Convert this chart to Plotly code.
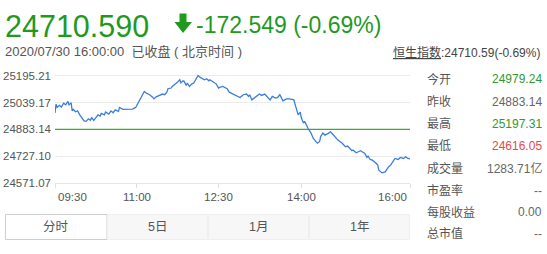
import plotly.graph_objects as go

# ---------------- data ----------------
minutes = [0, 1, 2, 4, 6, 8, 10, 12, 13, 15, 16, 17, 19, 21, 23, 25, 27, 29, 31, 33,
           34, 36, 38, 40, 42, 43, 46, 47, 50, 52, 54, 56, 59, 60, 63, 66, 69, 72, 75, 77,
           80, 82, 83, 85, 88, 91, 92, 94, 96, 98, 100, 102, 104, 105, 108, 109, 112, 114, 116, 117,
           119, 120, 122, 123, 125, 127, 129, 130, 132, 133, 135, 137, 139, 141, 143, 144, 146, 148, 150, 152,
           153, 156, 158, 160, 162, 164, 166, 169, 172, 175, 178, 180, 181, 183, 185, 188, 190, 192, 195, 197,
           200, 202, 205, 207, 209, 211, 212, 215, 218, 222, 223, 225, 226, 228, 229, 231, 232, 234, 235, 238,
           240, 243, 244, 246, 247, 249, 251, 254, 256, 258, 260, 263, 267, 270, 272, 274, 276, 277, 280, 282,
           284, 287, 288, 290, 291, 293, 295, 298, 300, 301, 304, 307, 310, 312, 314, 316, 319, 321, 324, 326,
           328, 330]
prices = [24979, 25030, 25011, 25023, 25013, 25036, 25026, 25046, 25026, 25038, 24991, 25000, 24986, 24991, 24968, 24949, 24933, 24930, 24945, 24936,
          24953, 24936, 24953, 24968, 24961, 24976, 24968, 24984, 24972, 24991, 24980, 24997, 24988, 25011, 25000, 25001, 25001, 25001, 25011, 25036,
          25065, 25089, 25104, 25094, 25085, 25069, 25061, 25073, 25077, 25081, 25089, 25085, 25100, 25120, 25124, 25133, 25147, 25159, 25172, 25154,
          25166, 25163, 25139, 25153, 25133, 25147, 25153, 25163, 25182, 25197, 25186, 25178, 25172, 25178, 25166, 25172, 25163, 25153, 25147, 25124,
          25128, 25133, 25128, 25120, 25100, 25094, 25085, 25075, 25069, 25085, 25089, 25075, 25085, 25055, 25065, 25075, 25089, 25081, 25089, 25075,
          25055, 25075, 25065, 25069, 25085, 25061, 25050, 25061, 25061, 25055, 25036, 24997, 24968, 24984, 24949, 24920, 24930, 24906, 24891, 24862,
          24832, 24809, 24803, 24813, 24842, 24862, 24850, 24860, 24869, 24856, 24840, 24821, 24802, 24782, 24786, 24773, 24759, 24763, 24747, 24753,
          24759, 24747, 24743, 24720, 24728, 24708, 24704, 24689, 24675, 24646, 24630, 24636, 24665, 24675, 24695, 24714, 24708, 24720, 24714, 24724,
          24714, 24711]
prev_close = 24883.14
y_ticks = [24571.07, 24727.10, 24883.14, 25039.17, 25195.21]
x_tick_pos = [0, 76, 152, 229, 330]
x_tick_labels = ["09:30", "11:00", "12:30", "14:00", "16:00"]

last_price = "24710.590"
change_text = "-172.549 (-0.69%)"
time_text = "2020/07/30 16:00:00  已收盘 ( 北京时间 )"
index_text = "<u>恒生指数</u>:24710.59(-0.69%)"

stat_labels = ["今开", "昨收", "最高", "最低", "成交量", "市盈率", "每股收益", "总市值"]
stat_values = ["24979.24", "24883.14", "25197.31", "24616.05", "1283.71亿", "--", "0.00", "--"]
stat_colors = ["#2f9a2f", "#666666", "#2f9a2f", "#e8474b", "#666666", "#666666", "#666666", "#666666"]
tabs = ["分时", "5日", "1月", "1年"]

# ---------------- layout helpers ----------------
W, H = 547, 254
L, R, T, B = 55, 137, 70, 71
PW, PH = W - L - R, H - T - B


def px(x):
    return (x - L) / PW


def py(y):
    return (H - B - y) / PH


FONT = "Liberation Sans, Arial, Noto Sans CJK SC"
GREEN = "#1f9a1f"

fig = go.Figure()
fig.add_trace(go.Scatter(x=[x_tick_pos[0], x_tick_pos[-1]], y=[prev_close, prev_close], mode="lines",
                         line=dict(color="#3aaa3a", width=1.2), hoverinfo="skip"))
fig.add_trace(go.Scatter(x=minutes, y=prices, mode="lines",
                         line=dict(color="#3b7ddd", width=1.3), hoverinfo="skip"))

annotations = []
# x tick labels (first left-aligned, last right-aligned)
for i, (pos, lab) in enumerate(zip(x_tick_pos, x_tick_labels)):
    anchor = "left" if i == 0 else ("right" if i == len(x_tick_pos) - 1 else "center")
    annotations.append(dict(x=pos, y=py(196.5), xref="x", yref="paper", text=lab,
                            showarrow=False, xanchor=anchor, yanchor="middle",
                            xshift=2 if i == 0 else (-2 if anchor == "right" else 0),
                            font=dict(size=11.5, color="#555555", family=FONT), borderpad=0))

# header texts
annotations.append(dict(x=px(4), y=py(26), xref="paper", yref="paper", text=last_price,
                        showarrow=False, xanchor="left", yanchor="middle", borderpad=0,
                        font=dict(size=30.5, color=GREEN, family=FONT)))
annotations.append(dict(x=px(195), y=py(25.5), xref="paper", yref="paper", text=change_text,
                        showarrow=False, xanchor="left", yanchor="middle", borderpad=0,
                        font=dict(size=23, color=GREEN, family=FONT)))
annotations.append(dict(x=px(4), y=py(51), xref="paper", yref="paper", text=time_text,
                        showarrow=False, xanchor="left", yanchor="middle", borderpad=0,
                        font=dict(size=13, color="#555555", family=FONT)))
annotations.append(dict(x=px(541), y=py(52), xref="paper", yref="paper", text=index_text,
                        showarrow=False, xanchor="right", yanchor="middle", borderpad=0,
                        font=dict(size=12, color="#444444", family=FONT)))

# right stats panel
row_y = [79.3, 101.6, 123.9, 146.1, 168.4, 190.6, 212.0, 233.5]
for lab, val, col, yy in zip(stat_labels, stat_values, stat_colors, row_y):
    annotations.append(dict(x=px(426), y=py(yy), xref="paper", yref="paper", text=lab,
                            showarrow=False, xanchor="left", yanchor="middle", borderpad=0,
                            font=dict(size=12, color="#555555", family=FONT)))
    annotations.append(dict(x=px(543), y=py(yy), xref="paper", yref="paper", text=val,
                            showarrow=False, xanchor="right", yanchor="middle", borderpad=0,
                            font=dict(size=12, color=col, family=FONT)))

# tabs
tab_edges = [5.5, 107, 208, 309, 410]
shapes = []
for i, name in enumerate(tabs):
    x0, x1 = tab_edges[i], tab_edges[i + 1]
    if i == 0:
        shapes.append(dict(type="rect", xref="paper", yref="paper", x0=px(x0), x1=px(x1),
                           y0=py(239.5), y1=py(214.5), fillcolor="white",
                           line=dict(color="#cfcfcf", width=1), layer="above"))
    else:
        shapes.append(dict(type="rect", xref="paper", yref="paper", x0=px(x0 + 0.5), x1=px(x1 - 0.5),
                           y0=py(239.5), y1=py(214.5), fillcolor="#f7f7f7",
                           line=dict(color="#efefef", width=1), layer="above"))
    annotations.append(dict(x=px((x0 + x1) / 2), y=py(227), xref="paper", yref="paper", text=name,
                            showarrow=False, xanchor="center", yanchor="middle", borderpad=0,
                            font=dict(size=12.5, color="#555555", family=FONT)))

# down arrow icon
ax = [179.5, 186.5, 186.5, 192, 183, 174.5, 179.5]
ay = [13.5, 13.5, 22, 22, 33, 22, 22]
path = "M " + " L ".join(f"{px(a):.5f},{py(b):.5f}" for a, b in zip(ax, ay)) + " Z"
shapes.append(dict(type="path", xref="paper", yref="paper", path=path,
                   fillcolor="#1f9a1f", line=dict(width=0)))

fig.update_layout(
    width=W, height=H,
    margin=dict(l=L, r=R, t=T, b=B, autoexpand=False),
    paper_bgcolor="white", plot_bgcolor="white",
    showlegend=False,
    font=dict(family=FONT, size=12, color="#555555"),
    xaxis=dict(range=[0, 330], showgrid=False, zeroline=False, showticklabels=False,
               tickvals=x_tick_pos, ticks="outside", ticklen=4, tickcolor="#e0e0e0",
               showline=True, linecolor="#e6e6e6", linewidth=1, fixedrange=True,
               automargin=False),
    yaxis=dict(range=[y_ticks[0], y_ticks[0] + 5.822 * PH], tickvals=y_ticks,
               ticktext=[f"{v:.2f}" for v in y_ticks], showgrid=True, gridcolor="#ebebeb",
               zeroline=False, showline=False, ticks="", ticklabelstandoff=3,
               tickfont=dict(size=11.5, color="#555555", family=FONT), fixedrange=True,
               automargin=False),
    annotations=annotations,
    shapes=shapes,
)

fig.write_html("out.html", config={"displayModeBar": False})
